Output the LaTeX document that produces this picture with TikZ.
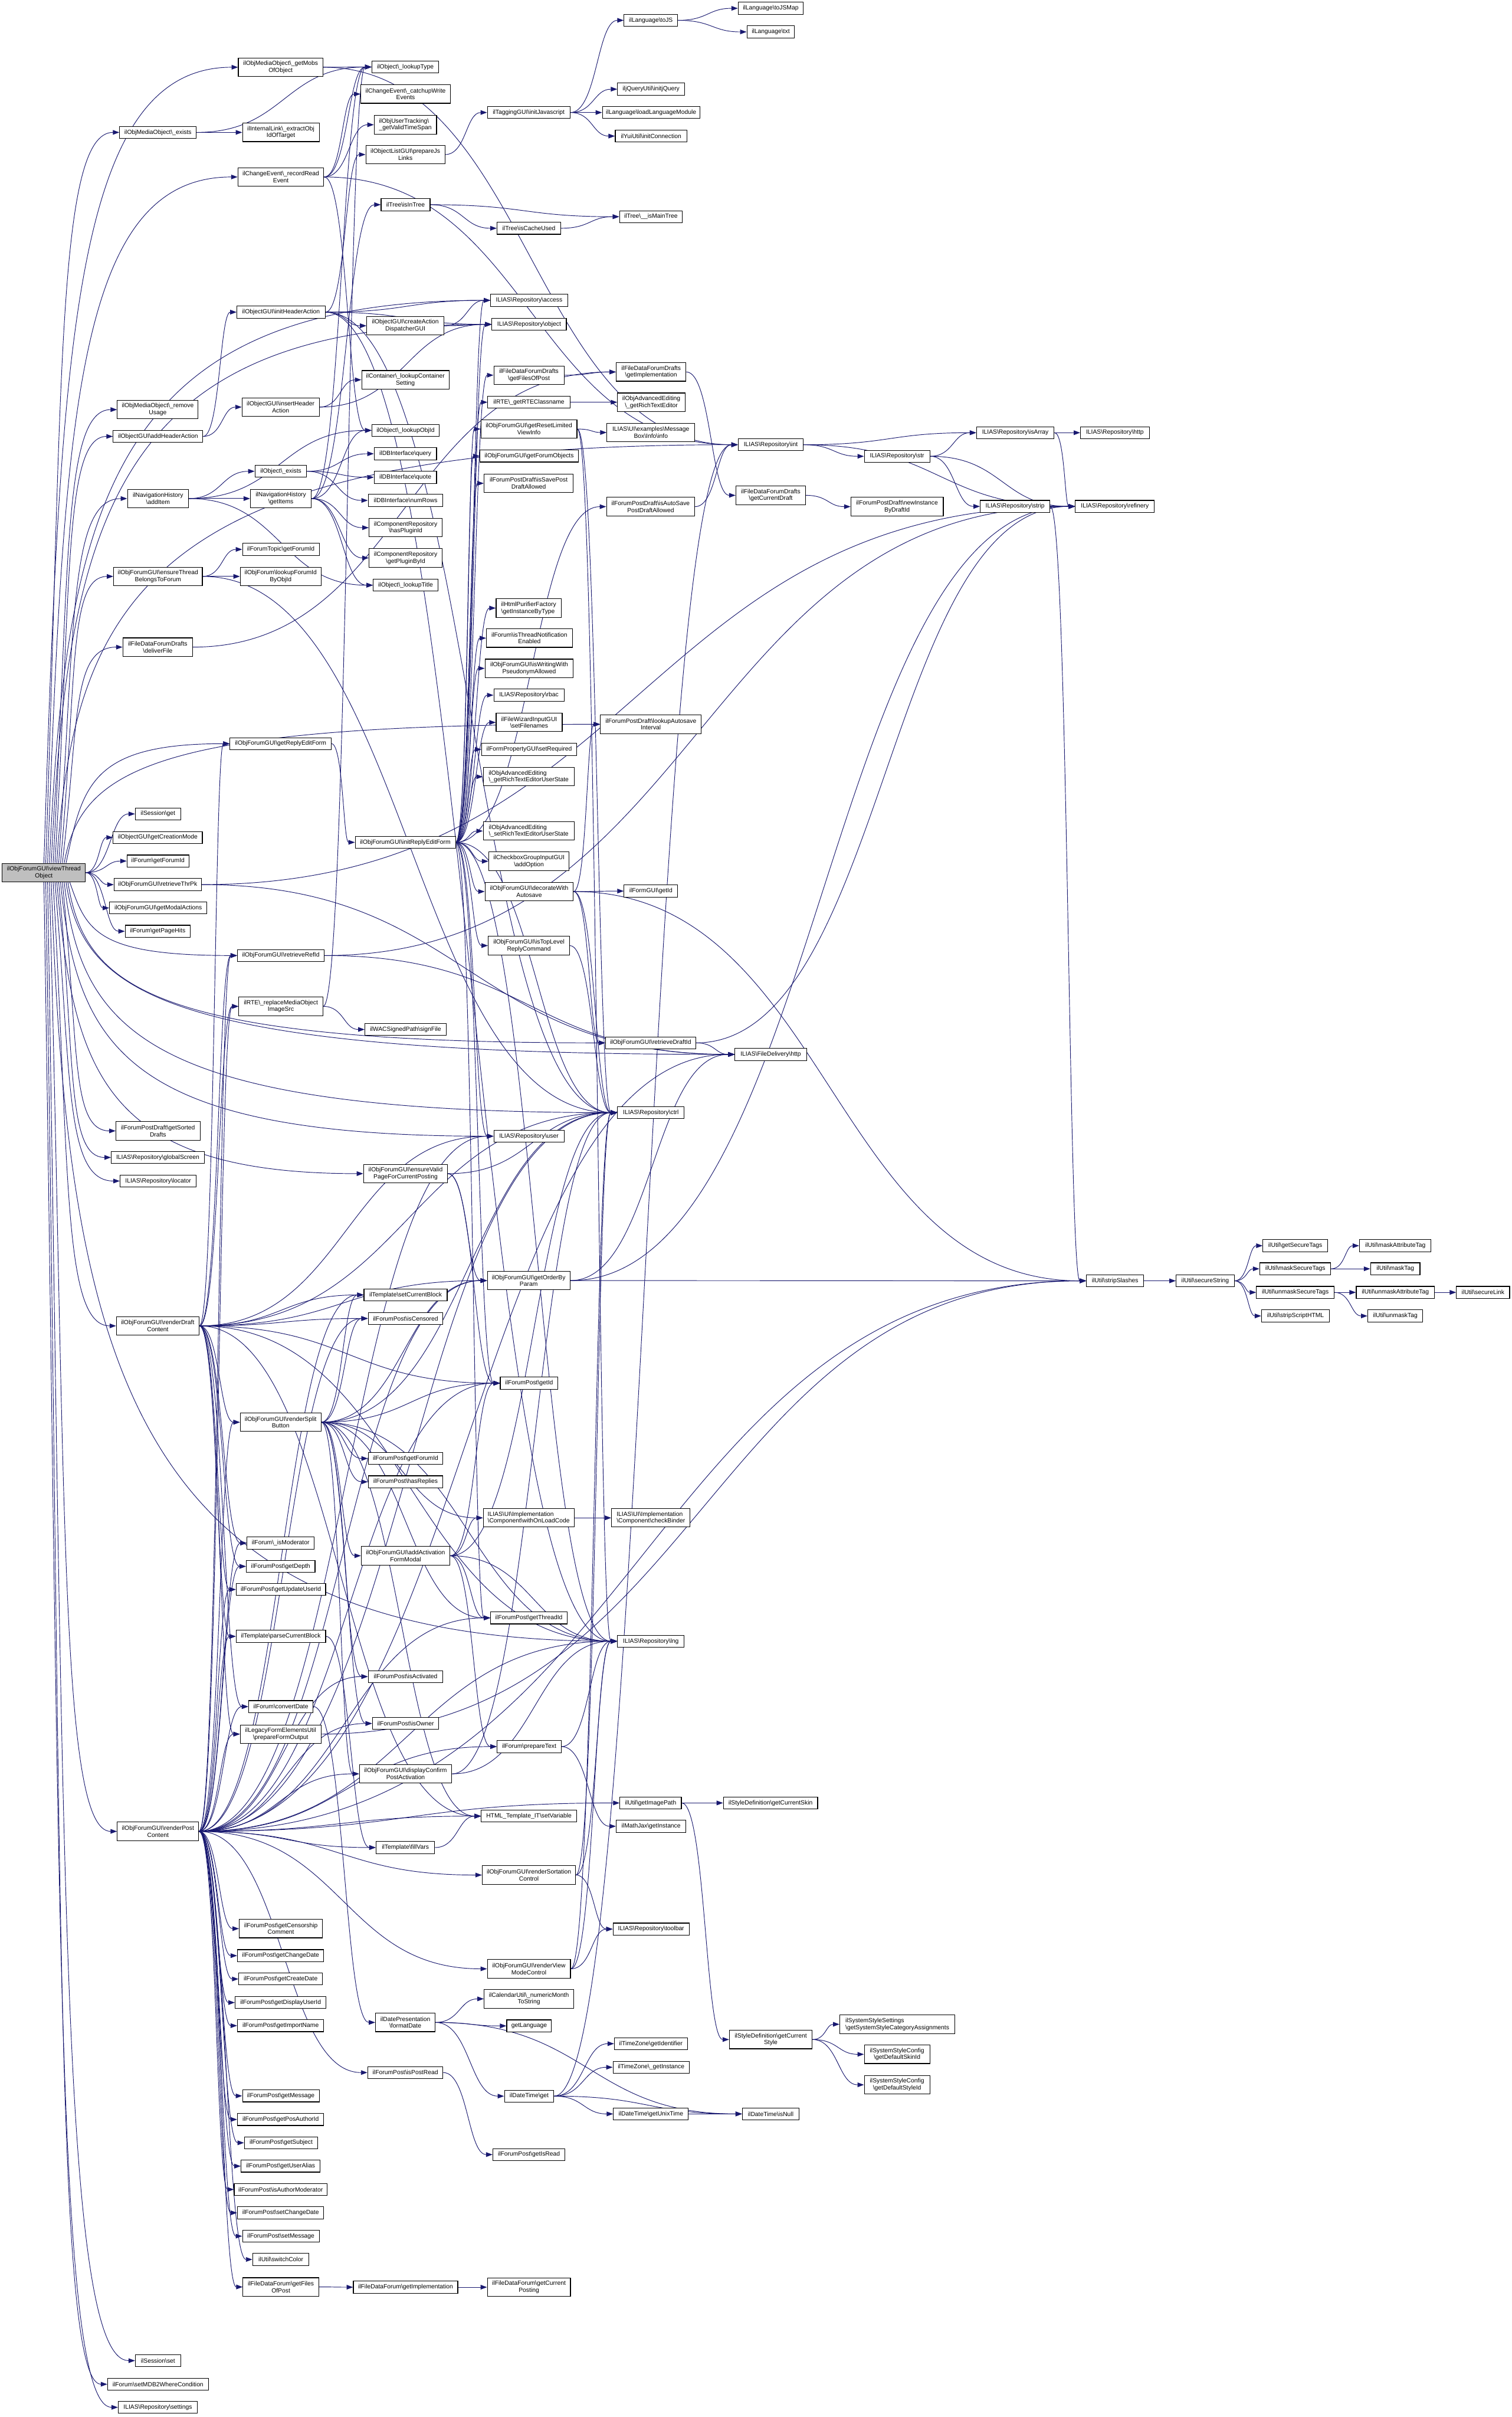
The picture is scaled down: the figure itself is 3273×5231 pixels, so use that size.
\documentclass[tikz,border=0pt]{standalone}
\usepackage{fontspec}
\setmainfont{Liberation Sans}
\usetikzlibrary{arrows.meta,calc}
\definecolor{edgec}{RGB}{25,25,112}
\definecolor{rootfill}{RGB}{191,191,191}
\pgfdeclarelayer{bg}
\pgfsetlayers{bg,main}
\newcommand\bsx{\textbackslash}
\tikzset{
  nd/.style={draw=black, line width=0.7pt, fill=white, inner sep=0pt, minimum height=13pt, font=\fontsize{6.6}{7.5}\selectfont, align=center},
  nd2/.style={nd, minimum height=20pt},
  ndl/.style={nd2, align=left},
  e/.style={draw=edgec, line width=0.6pt, -{Triangle[length=7pt,width=5pt]}},
}
\newcommand\mkn[5]{\node[nd, minimum width=#4*0.5pt] (#1) at (#2,#3) {#5};}
\newcommand\mknn[6]{\node[nd2, minimum width=#4*0.5pt] (#1) at (#2,#3) {#5\\#6};}
\newcommand\mknl[6]{\node[ndl, minimum width=#4*0.5pt] (#1) at (#2,#3) {#5\\#6};}
\newcommand\edg[2]{\draw[e] let \p1=(#1.east), \p2=(#2.west) in (\p1) .. controls ({(\x1+\x2)/2},\y1) and ({(\x1+\x2)/2},\y2) .. (\p2);}
\newcommand\edgs[2]{\foreach \tg in {#2}{\edg{#1}{\tg}}}
% root edges leaving from top/bottom of the root box, going vertically first and drifting right
\newcommand\rv[3]{\draw[e] let \p1=($(root.#2)+(#3,0)$), \p2=(#1.west) in (\p1) .. controls ({\x1+18pt},{\y1+0.65*(\y2-\y1)}) and ({\x1+0.15*(\x2-\x1)},\y2) .. (\p2);}
\begin{document}
\begin{tikzpicture}[x=0.5pt,y=-0.5pt]
\useasboundingbox (0,0) rectangle (3273,5231);
% root
\node[nd2, fill=rootfill, minimum width=90pt] (root) at (95,1888.5) {ilObjForumGUI\bsx viewThread\\Object};
% column A
\mkn{mobExists}{342}{286.5}{166}{ilObjMediaObject\bsx\_exists}
\mknn{mobRemove}{341.5}{886.5}{175}{ilObjMediaObject\bsx\_remove}{Usage}
\mkn{addHeader}{342}{944.5}{194}{ilObjectGUI\bsx addHeaderAction}
\mknn{navAdd}{342}{1079}{132}{ilNavigationHistory}{\bsx addItem}
\mknn{ensureThread}{342}{1247.5}{192}{ilObjForumGUI\bsx ensureThread}{BelongsToForum}
\mknn{deliverFile}{341.5}{1400.5}{151}{ilFileDataForumDrafts}{\bsx deliverFile}
\mkn{sessGet}{342}{1761.5}{98}{ilSession\bsx get}
\mkn{creationMode}{341.5}{1812.5}{193}{ilObjectGUI\bsx getCreationMode}
\mkn{forumGetForumId}{342}{1863.5}{134}{ilForum\bsx getForumId}
\mkn{retrieveThrPk}{341.5}{1914.5}{189}{ilObjForumGUI\bsx retrieveThrPk}
\mkn{modalActions}{342.5}{1965}{211}{ilObjForumGUI\bsx getModalActions}
\mkn{pageHits}{341.5}{2015.5}{141}{ilForum\bsx getPageHits}
\mknn{sortedDrafts}{342}{2447.5}{182}{ilForumPostDraft\bsx getSorted}{Drafts}
\mkn{globalScreen}{341.5}{2505}{201}{ILIAS\bsx Repository\bsx globalScreen}
\mkn{locator}{342.5}{2556}{165}{ILIAS\bsx Repository\bsx locator}
\mknn{renderDraft}{341.5}{2869.5}{179}{ilObjForumGUI\bsx renderDraft}{Content}
\mknn{renderPost}{342}{3963.5}{176}{ilObjForumGUI\bsx renderPost}{Content}
\mkn{sessSet}{342}{5109}{98}{ilSession\bsx set}
\mkn{mdb2}{342}{5160}{218}{ilForum\bsx setMDB2WhereCondition}
\mkn{settings}{341.5}{5210}{171}{ILIAS\bsx Repository\bsx settings}
% column B
\mknn{getMobs}{607.5}{145.5}{183}{ilObjMediaObject\bsx\_getMobs}{OfObject}
\mknn{extractObj}{608}{286.5}{166}{ilInternalLink\bsx\_extractObj}{IdOfTarget}
\mknn{recordRead}{608}{383}{186}{ilChangeEvent\bsx\_recordRead}{Event}
\mkn{initHeader}{608.5}{675.5}{191}{ilObjectGUI\bsx initHeaderAction}
\mknn{insertHeader}{607.5}{881}{167}{ilObjectGUI\bsx insertHeader}{Action}
\mkn{objExists}{608}{1020}{112}{ilObject\bsx\_exists}
\mknn{navGet}{608}{1079}{132}{ilNavigationHistory}{\bsx getItems}
\mkn{topicForumId}{608}{1189}{166}{ilForumTopic\bsx getForumId}
\mknn{lookupForumId}{607.5}{1247.5}{175}{ilObjForum\bsx lookupForumId}{ByObjId}
\mkn{getReplyEdit}{607.5}{1609.5}{219}{ilObjForumGUI\bsx getReplyEditForm}
\mkn{retrieveRefId}{608}{2068}{188}{ilObjForumGUI\bsx retrieveRefId}
\mknn{replaceMob}{608}{2178}{182}{ilRTE\bsx\_replaceMediaObject}{ImageSrc}
\mknn{splitButton}{607.5}{3078}{175}{ilObjForumGUI\bsx renderSplit}{Button}
\mkn{isModerator}{607.5}{3339.5}{145}{ilForum\bsx\_isModerator}
\mkn{getDepth}{607.5}{3390}{149}{ilForumPost\bsx getDepth}
\mkn{updateUserId}{608}{3440}{194}{ilForumPost\bsx getUpdateUserId}
\mkn{parseBlock}{608}{3541.5}{194}{ilTemplate\bsx parseCurrentBlock}
\mkn{convertDate}{608}{3693.5}{140}{ilForum\bsx convertDate}
\mknn{prepareForm}{607.5}{3753}{175}{ilLegacyFormElementsUtil}{\bsx prepareFormOutput}
\mknn{censorship}{608}{4174}{180}{ilForumPost\bsx getCensorship}{Comment}
\mkn{getChangeDate}{607.5}{4232.5}{187}{ilForumPost\bsx getChangeDate}
\mkn{getCreateDate}{607.5}{4283}{181}{ilForumPost\bsx getCreateDate}
\mkn{displayUserId}{607.5}{4334}{197}{ilForumPost\bsx getDisplayUserId}
\mkn{importName}{607.5}{4384}{187}{ilForumPost\bsx getImportName}
\mkn{getMessage}{608}{4536}{166}{ilForumPost\bsx getMessage}
\mkn{posAuthorId}{607.5}{4587}{187}{ilForumPost\bsx getPosAuthorId}
\mkn{getSubject}{608.5}{4637.5}{159}{ilForumPost\bsx getSubject}
\mkn{userAlias}{607.5}{4688}{171}{ilForumPost\bsx getUserAlias}
\mkn{authorModerator}{607.5}{4738.5}{201}{ilForumPost\bsx isAuthorModerator}
\mkn{setChangeDate}{607.5}{4789}{187}{ilForumPost\bsx setChangeDate}
\mkn{setMessage}{608}{4839.5}{166}{ilForumPost\bsx setMessage}
\mkn{switchColor}{608}{4890}{122}{ilUtil\bsx switchColor}
\mknn{filesOfPost}{608}{4949.5}{164}{ilFileDataForum\bsx getFiles}{OfPost}
% column C
\mkn{lookupType}{877.5}{145}{145}{ilObject\bsx\_lookupType}
\mknn{catchup}{878}{203.5}{194}{ilChangeEvent\bsx\_catchupWrite}{Events}
\mknl{tracking}{877.5}{270}{135}{ilObjUserTracking\bsx}{\_getValidTimeSpan}
\mknn{prepareJs}{877.5}{334.5}{171}{ilObjectListGUI\bsx prepareJs}{Links}
\mkn{isInTree}{878}{443}{106}{ilTree\bsx isInTree}
\mknn{createAction}{877.5}{705}{167}{ilObjectGUI\bsx createAction}{DispatcherGUI}
\mknn{lookupContainer}{877.5}{822}{189}{ilContainer\bsx\_lookupContainer}{Setting}
\mkn{lookupObjId}{878}{931.5}{146}{ilObject\bsx\_lookupObjId}
\mkn{dbQuery}{877.5}{982}{135}{ilDBInterface\bsx query}
\mkn{dbQuote}{877.5}{1033}{135}{ilDBInterface\bsx quote}
\mkn{dbNumRows}{878}{1083}{162}{ilDBInterface\bsx numRows}
\mknn{hasPluginId}{878}{1142}{158}{ilComponentRepository}{\bsx hasPluginId}
\mknn{getPluginById}{878}{1207.5}{158}{ilComponentRepository}{\bsx getPluginById}
\mkn{lookupTitle}{878}{1266.5}{140}{ilObject\bsx\_lookupTitle}
\mkn{initReplyEdit}{877.5}{1823}{217}{ilObjForumGUI\bsx initReplyEditForm}
\mkn{wacSign}{878}{2228}{176}{ilWACSignedPath\bsx signFile}
\mknn{ensureValid}{878}{2540}{182}{ilObjForumGUI\bsx ensureValid}{PageForCurrentPosting}
\mkn{setCurrentBlock}{878}{2802.5}{180}{ilTemplate\bsx setCurrentBlock}
\mkn{isCensored}{878}{2853.5}{162}{ilForumPost\bsx isCensored}
\mkn{postForumId}{878}{3156.5}{162}{ilForumPost\bsx getForumId}
\mkn{hasReplies}{878}{3207}{162}{ilForumPost\bsx hasReplies}
\mknn{addActivation}{878}{3367}{192}{ilObjForumGUI\bsx addActivation}{FormModal}
\mkn{isActivated}{878}{3628.5}{162}{ilForumPost\bsx isActivated}
\mkn{isOwner}{878}{3730}{144}{ilForumPost\bsx isOwner}
\mknn{displayConfirm}{878}{3839}{200}{ilObjForumGUI\bsx displayConfirm}{PostActivation}
\mkn{fillVars}{877.5}{3998.5}{127}{ilTemplate\bsx fillVars}
\mknn{formatDate}{877.5}{4377}{129}{ilDatePresentation}{\bsx formatDate}
\mkn{isPostRead}{877.5}{4485.5}{163}{ilForumPost\bsx isPostRead}
\mkn{fdfImpl}{878}{4950}{226}{ilFileDataForum\bsx getImplementation}
% column D
\mkn{taggingJs}{1144.5}{243.5}{179}{ilTaggingGUI\bsx initJavascript}
\mkn{isCacheUsed}{1145}{494}{138}{ilTree\bsx isCacheUsed}
\mkn{repoAccess}{1145.5}{650}{167}{ILIAS\bsx Repository\bsx access}
\mkn{repoObject}{1145.5}{702}{161}{ILIAS\bsx Repository\bsx object}
\mknn{fdfdFilesOfPost}{1145}{812}{152}{ilFileDataForumDrafts}{\bsx getFilesOfPost}
\mkn{rteClassname}{1145}{870.5}{178}{ilRTE\bsx\_getRTEClassname}
\mknn{resetLimited}{1145}{928.5}{208}{ilObjForumGUI\bsx getResetLimited}{ViewInfo}
\mkn{forumObjects}{1145.5}{987}{213}{ilObjForumGUI\bsx getForumObjects}
\mknn{isSavePostDraft}{1144.5}{1046}{193}{ilForumPostDraft\bsx isSavePost}{DraftAllowed}
\mknl{htmlPurifier}{1144.5}{1316}{141}{ilHtmlPurifierFactory}{\bsx getInstanceByType}
\mknn{threadNotif}{1146}{1381}{186}{ilForum\bsx isThreadNotification}{Enabled}
\mknn{pseudonym}{1145.5}{1446.5}{191}{ilObjForumGUI\bsx isWritingWith}{PseudonymAllowed}
\mkn{rbac}{1145}{1504.5}{152}{ILIAS\bsx Repository\bsx rbac}
\mknn{fileWizard}{1145.5}{1563.5}{143}{ilFileWizardInputGUI}{\bsx setFilenames}
\mkn{setRequired}{1145.5}{1622}{205}{ilFormPropertyGUI\bsx setRequired}
\mknl{getRteUserState}{1144.5}{1681}{197}{ilObjAdvancedEditing}{\bsx\_getRichTextEditorUserState}
\mknl{setRteUserState}{1144.5}{1798.5}{197}{ilObjAdvancedEditing}{\bsx\_setRichTextEditorUserState}
\mknn{checkboxAdd}{1145}{1864}{174}{ilCheckboxGroupInputGUI}{\bsx addOption}
\mknn{decorateAutosave}{1145.5}{1929.5}{191}{ilObjForumGUI\bsx decorateWith}{Autosave}
\mknn{isTopLevel}{1145}{2046.5}{176}{ilObjForumGUI\bsx isTopLevel}{ReplyCommand}
\mkn{repoUser}{1145}{2459}{152}{ILIAS\bsx Repository\bsx user}
\mknn{orderBy}{1144.5}{2771.5}{179}{ilObjForumGUI\bsx getOrderBy}{Param}
\mkn{postGetId}{1145.5}{2993.5}{125}{ilForumPost\bsx getId}
\mknl{withOnLoad}{1144.5}{3285}{197}{ILIAS\bsx UI\bsx Implementation}{\bsx Component\bsx withOnLoadCode}
\mkn{getThreadId}{1145}{3501.5}{166}{ilForumPost\bsx getThreadId}
\mkn{prepareText}{1145.5}{3780}{139}{ilForum\bsx prepareText}
\mkn{setVariable}{1145}{3930.5}{206}{HTML\_Template\_IT\bsx setVariable}
\mknn{sortation}{1145}{4058}{202}{ilObjForumGUI\bsx renderSortation}{Control}
\mknn{viewMode}{1145}{4261}{180}{ilObjForumGUI\bsx renderView}{ModeControl}
\mknn{numericMonth}{1145}{4326}{194}{ilCalendarUtil\bsx\_numericMonth}{ToString}
\mkn{getLanguage}{1145.5}{4384.5}{97}{getLanguage}
\mkn{dateGet}{1145.5}{4536.5}{107}{ilDateTime\bsx get}
\mkn{getIsRead}{1145}{4663}{156}{ilForumPost\bsx getIsRead}
\mknn{currentPosting}{1145}{4950}{180}{ilFileDataForum\bsx getCurrent}{Posting}
% column E
\mkn{toJS}{1409}{44}{116}{ilLanguage\bsx toJS}
\mkn{initjQuery}{1409.5}{193}{145}{iljQueryUtil\bsx initjQuery}
\mkn{loadLangModule}{1409.5}{243.5}{211}{ilLanguage\bsx loadLanguageModule}
\mkn{yuiConnection}{1409.5}{294.5}{155}{ilYuiUtil\bsx initConnection}
\mkn{isMainTree}{1409}{469}{136}{ilTree\bsx\_\_isMainTree}
\mknn{fdfdImpl}{1409.5}{805}{151}{ilFileDataForumDrafts}{\bsx getImplementation}
\mknn{richTextEditor}{1410}{870.5}{146}{ilObjAdvancedEditing}{\bsx\_getRichTextEditor}
\mknn{msgBoxInfo}{1409}{936}{190}{ILIAS\bsx UI\bsx examples\bsx Message}{Box\bsx Info\bsx info}
\mknn{isAutoSave}{1408.5}{1096.5}{191}{ilForumPostDraft\bsx isAutoSave}{PostDraftAllowed}
\mknn{lookupAutosave}{1409}{1567.5}{218}{ilForumPostDraft\bsx lookupAutosave}{Interval}
\mkn{formGetId}{1409}{1928.5}{116}{ilFormGUI\bsx getId}
\mkn{retrieveDraftId}{1408.5}{2257}{195}{ilObjForumGUI\bsx retrieveDraftId}
\mkn{repoCtrl}{1409}{2408}{144}{ILIAS\bsx Repository\bsx ctrl}
\mknl{checkBinder}{1409}{3285}{170}{ILIAS\bsx UI\bsx Implementation}{\bsx Component\bsx checkBinder}
\mkn{repoLng}{1409}{3552}{144}{ILIAS\bsx Repository\bsx lng}
\mkn{getImagePath}{1408.5}{3902}{133}{ilUtil\bsx getImagePath}
\mkn{mathJax}{1409.5}{3952.5}{151}{ilMathJax\bsx getInstance}
\mkn{toolbar}{1409.5}{4175}{165}{ILIAS\bsx Repository\bsx toolbar}
\mkn{tzIdentifier}{1409}{4423}{158}{ilTimeZone\bsx getIdentifier}
\mkn{tzInstance}{1409.5}{4474}{165}{ilTimeZone\bsx\_getInstance}
\mkn{unixTime}{1409}{4575}{162}{ilDateTime\bsx getUnixTime}
% column F
\mkn{toJSMap}{1668.5}{18}{141}{ilLanguage\bsx toJSMap}
\mkn{txt}{1668.5}{69}{103}{ilLanguage\bsx txt}
\mkn{repoInt}{1668.5}{962.5}{141}{ILIAS\bsx Repository\bsx int}
\mknn{currentDraft}{1668.5}{1072}{151}{ilFileDataForumDrafts}{\bsx getCurrentDraft}
\mkn{fileDelivHttp}{1668.5}{2282}{155}{ILIAS\bsx FileDelivery\bsx http}
\mkn{currentSkin}{1668}{3902}{204}{ilStyleDefinition\bsx getCurrentSkin}
\mknn{currentStyle}{1668.5}{4414}{179}{ilStyleDefinition\bsx getCurrent}{Style}
\mkn{isNull}{1668.5}{4575}{123}{ilDateTime\bsx isNull}
% column G
\mkn{repoStr}{1942}{987.5}{142}{ILIAS\bsx Repository\bsx str}
\mknn{newInstance}{1942}{1096.5}{200}{ilForumPostDraft\bsx newInstance}{ByDraftId}
\mknl{sysStyleCat}{1942.5}{4381}{249}{ilSystemStyleSettings}{\bsx getSystemStyleCategoryAssignments}
\mknn{defaultSkin}{1942}{4446}{142}{ilSystemStyleConfig}{\bsx getDefaultSkinId}
\mknn{defaultStyle}{1942}{4512}{142}{ilSystemStyleConfig}{\bsx getDefaultStyleId}
% column H/I
\mkn{isArray}{2198}{936.5}{168}{ILIAS\bsx Repository\bsx isArray}
\mkn{strip}{2197.5}{1096}{151}{ILIAS\bsx Repository\bsx strip}
\mkn{http}{2413.5}{936.5}{149}{ILIAS\bsx Repository\bsx http}
\mkn{refinery}{2413.5}{1096}{171}{ILIAS\bsx Repository\bsx refinery}
\mkn{stripSlashes}{2414}{2772}{124}{ilUtil\bsx stripSlashes}
\mkn{secureString}{2609}{2772}{126}{ilUtil\bsx secureString}
\mkn{getSecureTags}{2804}{2696}{140}{ilUtil\bsx getSecureTags}
\mkn{maskSecureTags}{2804}{2746}{154}{ilUtil\bsx maskSecureTags}
\mkn{unmaskSecureTags}{2804}{2797}{168}{ilUtil\bsx unmaskSecureTags}
\mkn{stripScriptHTML}{2804.5}{2848}{147}{ilUtil\bsx stripScriptHTML}
\mkn{maskAttributeTag}{3020.5}{2696}{155}{ilUtil\bsx maskAttributeTag}
\mkn{maskTag}{3020.5}{2746}{107}{ilUtil\bsx maskTag}
\mkn{unmaskAttributeTag}{3020.5}{2797}{169}{ilUtil\bsx unmaskAttributeTag}
\mkn{unmaskTag}{3020.5}{2848}{119}{ilUtil\bsx unmaskTag}
\mkn{secureLink}{3210.5}{2797}{115}{ilUtil\bsx secureLink}
% edges
\begin{pgfonlayer}{bg}
\fill[white] (0,0) rectangle (3273,5231);
% root: upward bundle
\rv{getMobs}{north}{0}
\rv{mobExists}{north}{4}
\rv{recordRead}{north}{8}
\rv{repoAccess}{north}{12}
\rv{repoObject}{north}{16}
\rv{mobRemove}{north}{20}
\rv{addHeader}{north}{24}
\rv{repoInt}{north}{28}
\rv{navAdd}{north}{32}
\rv{ensureThread}{north}{36}
\rv{deliverFile}{north}{40}
\rv{lookupAutosave}{north}{44}
\rv{getReplyEdit}{north}{48}
% root: downward bundle
\rv{settings}{south}{0}
\rv{mdb2}{south}{4}
\rv{sessSet}{south}{8}
\rv{renderPost}{south}{12}
\rv{repoLng}{south}{16}
\rv{renderDraft}{south}{20}
\rv{locator}{south}{24}
\rv{ensureValid}{south}{28}
\rv{globalScreen}{south}{32}
\rv{repoUser}{south}{36}
\rv{sortedDrafts}{south}{40}
\rv{repoCtrl}{south}{44}
\rv{fileDelivHttp}{south}{48}
\rv{retrieveDraftId}{south}{52}
\rv{retrieveRefId}{south}{56}
% root: near targets
\edgs{root}{sessGet,creationMode,forumGetForumId,retrieveThrPk,modalActions,pageHits}
\edgs{getMobs}{lookupType,repoInt}
\edgs{mobExists}{lookupType,extractObj}
\edgs{recordRead}{lookupType,catchup,tracking,lookupObjId,repoInt}
\edgs{addHeader}{initHeader,insertHeader}
\edgs{initHeader}{prepareJs,createAction,repoAccess,repoObject,repoCtrl,repoLng}
\edgs{prepareJs}{taggingJs}
\edgs{taggingJs}{toJS,initjQuery,loadLangModule,yuiConnection}
\edgs{toJS}{toJSMap,txt}
\edgs{createAction}{repoAccess,repoObject}
\edgs{insertHeader}{lookupContainer,repoObject}
\edgs{navAdd}{lookupObjId,objExists,navGet,lookupTitle}
\edgs{objExists}{dbQuery,dbQuote,dbNumRows}
\edgs{navGet}{lookupType,lookupObjId,isInTree,hasPluginId,getPluginById,lookupTitle}
\edgs{isInTree}{isMainTree,isCacheUsed}
\edgs{isCacheUsed}{isMainTree}
\edgs{ensureThread}{topicForumId,lookupForumId,repoCtrl}
\edgs{deliverFile}{fdfdImpl}
\edgs{getReplyEdit}{initReplyEdit}
\edgs{initReplyEdit}{repoAccess,repoObject,fdfdFilesOfPost,rteClassname,resetLimited,forumObjects,isSavePostDraft,isAutoSave,htmlPurifier,threadNotif,pseudonym,rbac,fileWizard,setRequired,getRteUserState,setRteUserState,checkboxAdd,decorateAutosave,isTopLevel,repoUser,repoCtrl,repoLng,postGetId,getThreadId}
\edgs{resetLimited}{msgBoxInfo,repoCtrl,repoLng}
\edgs{rteClassname}{richTextEditor}
\edgs{fdfdFilesOfPost}{fdfdImpl}
\edgs{fdfdImpl}{currentDraft}
\edgs{currentDraft}{newInstance}
\edgs{isAutoSave}{repoInt}
\edgs{repoInt}{isArray,repoStr,refinery}
\edgs{repoStr}{isArray,strip,refinery}
\edgs{isArray}{http,refinery}
\edgs{strip}{stripSlashes}
\edgs{decorateAutosave}{lookupAutosave,formGetId,retrieveDraftId,repoCtrl,stripSlashes}
\edgs{isTopLevel}{repoCtrl}
\edgs{retrieveDraftId}{fileDelivHttp,refinery}
\edgs{retrieveThrPk}{fileDelivHttp,refinery}
\edgs{retrieveRefId}{fileDelivHttp,refinery}
\edgs{replaceMob}{lookupType,wacSign}
\edgs{ensureValid}{orderBy,postGetId,repoCtrl}
\edgs{orderBy}{stripSlashes,refinery,fileDelivHttp}
\edgs{renderDraft}{replaceMob,retrieveRefId,getReplyEdit,setCurrentBlock,isCensored,splitButton,isModerator,getDepth,updateUserId,parseBlock,convertDate,prepareForm,repoUser,repoCtrl,repoLng,orderBy,postGetId,setVariable}
\edgs{splitButton}{setCurrentBlock,isCensored,postForumId,hasReplies,addActivation,isActivated,isOwner,displayConfirm,orderBy,postGetId,getThreadId,withOnLoad,repoCtrl,repoLng,setVariable}
\edgs{addActivation}{withOnLoad,postGetId,repoCtrl,repoLng,getThreadId,prepareText}
\edgs{withOnLoad}{checkBinder}
\edgs{displayConfirm}{repoLng,repoCtrl}
\edgs{renderPost}{replaceMob,retrieveRefId,setCurrentBlock,isCensored,splitButton,isModerator,getDepth,updateUserId,parseBlock,isActivated,convertDate,isOwner,prepareForm,displayConfirm,fillVars,censorship,getChangeDate,getCreateDate,displayUserId,importName,isPostRead,getMessage,posAuthorId,getSubject,userAlias,authorModerator,setChangeDate,setMessage,switchColor,filesOfPost,orderBy,postGetId,getThreadId,prepareText,setVariable,sortation,viewMode,repoUser,repoCtrl,repoLng,getImagePath,stripSlashes,fileDelivHttp}
\edgs{parseBlock}{fillVars}
\edgs{fillVars}{setVariable}
\edgs{convertDate}{formatDate}
\edgs{prepareForm}{stripSlashes}
\edgs{prepareText}{repoLng,mathJax}
\edgs{getImagePath}{currentSkin,currentStyle}
\edgs{currentStyle}{sysStyleCat,defaultSkin,defaultStyle}
\edgs{sortation}{toolbar,repoCtrl,repoLng}
\edgs{viewMode}{toolbar,repoCtrl,repoLng}
\edgs{formatDate}{numericMonth,getLanguage,dateGet,isNull}
\edgs{dateGet}{tzIdentifier,tzInstance,unixTime,isNull,repoInt}
\edgs{unixTime}{isNull}
\edgs{isPostRead}{getIsRead}
\edgs{filesOfPost}{fdfImpl}
\edgs{fdfImpl}{currentPosting}
\edgs{stripSlashes}{secureString}
\edgs{secureString}{getSecureTags,maskSecureTags,unmaskSecureTags,stripScriptHTML}
\edgs{maskSecureTags}{maskAttributeTag,maskTag}
\edgs{unmaskSecureTags}{unmaskAttributeTag,unmaskTag}
\edgs{unmaskAttributeTag}{secureLink}
\end{pgfonlayer}
\end{tikzpicture}
\end{document}
